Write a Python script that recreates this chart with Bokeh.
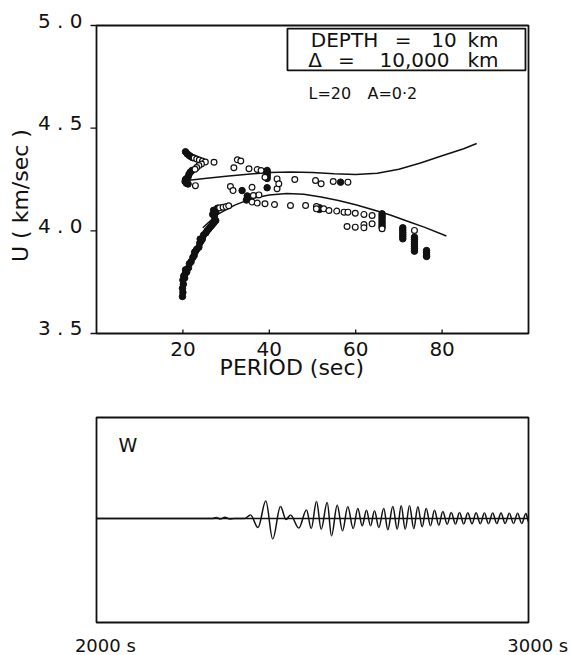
import numpy as np
from bokeh.plotting import figure
from bokeh.models import Range1d, Label, BoxAnnotation
from bokeh.layouts import column
from bokeh.embed import file_html
from bokeh.resources import INLINE

FONT = "DejaVu Sans"

# ---------------- data: group velocity vs period ----------------
x_ticks = [20, 40, 60, 80]
y_ticks = [3.5, 4.0, 4.5, 5.0]
period_lim = [0, 100]
u_lim = [3.5, 5.0]

upper_P = [21.0, 25, 30, 35, 40, 45, 50, 55, 60, 65, 70, 75, 80, 85, 88]
upper_U = [4.245, 4.255, 4.266, 4.276, 4.284, 4.287, 4.284, 4.278, 4.274,
           4.280, 4.300, 4.330, 4.366, 4.400, 4.425]

lower_P = [24.6, 28, 32, 36, 40, 44, 48, 52, 56, 60, 64, 68, 72, 76, 81]
lower_U = [4.015, 4.080, 4.125, 4.158, 4.175, 4.182, 4.178, 4.165, 4.148,
           4.127, 4.103, 4.077, 4.047, 4.017, 3.975]

open_P = [22.6, 23.2, 23.8, 24.5, 25.2, 24.3, 23.7, 23.2, 22.8, 22.9, 27.2,
          31.8, 32.6, 33.4, 35.3, 37.2, 38.1, 39.0,
          41.8, 45.9, 50.7, 52.0, 54.8, 58.2,
          31.0, 31.6, 36.0, 41.8, 42.2,
          36.3, 37.6,
          28.5, 29.3, 30.0, 30.6,
          36.0, 37.2, 39.0, 41.2, 44.9, 48.4, 50.9, 50.9, 52.6, 53.8, 55.6,
          57.3, 58.2, 59.9, 61.9, 63.8,
          66.1,
          58.0, 59.9, 61.9, 61.9, 63.8,
          73.6]
open_U = [4.355, 4.350, 4.345, 4.340, 4.335, 4.325, 4.318, 4.308, 4.300, 4.220, 4.334,
          4.307, 4.346, 4.340, 4.302, 4.299, 4.294, 4.261,
          4.253, 4.250, 4.245, 4.229, 4.240, 4.237,
          4.216, 4.196, 4.212, 4.205, 4.229,
          4.172, 4.175,
          4.112, 4.115, 4.118, 4.122,
          4.140, 4.135, 4.132, 4.128, 4.123, 4.123, 4.118, 4.107, 4.107, 4.099, 4.096,
          4.091, 4.091, 4.086, 4.080, 4.075,
          4.010,
          4.021, 4.018, 4.031, 4.015, 4.034,
          4.002]

filled_P = [19.9, 20.0, 19.9, 20.1, 20.0, 20.2, 20.5, 20.9, 21.3, 21.5, 21.9, 22.3,
            22.6, 22.9, 23.2, 23.7, 23.9, 24.2, 24.5, 24.8, 25.3, 25.6, 26.0, 26.4,
            26.8, 27.2, 27.6, 27.3, 26.9, 27.1, 27.6, 28.0, 20.4, 20.6, 22.7, 24.0,
            20.6, 21.0, 21.4, 21.8, 22.2,
            22.1, 21.7, 21.4, 21.2, 20.9, 20.6, 20.5, 20.8, 21.2,
            39.5, 39.5, 39.5, 39.5, 39.5, 39.5,
            33.7, 34.9, 35.0, 34.7, 51.6, 51.6, 56.5,
            66.1, 66.1, 66.1, 66.1, 66.1, 66.1, 66.1,
            70.9, 70.9, 70.9, 70.9, 70.9, 70.9,
            73.6, 73.6, 73.6, 73.6, 73.6, 73.6, 73.6,
            76.4, 76.4, 76.4, 76.4]
filled_U = [3.680, 3.700, 3.720, 3.740, 3.760, 3.780, 3.790, 3.800, 3.820, 3.840, 3.850, 3.870,
            3.880, 3.900, 3.910, 3.920, 3.940, 3.950, 3.960, 3.980, 3.990, 4.000, 4.010, 4.020,
            4.030, 4.040, 4.050, 4.070, 4.080, 4.100, 4.090, 4.110, 3.770, 3.810, 3.895, 3.960,
            4.385, 4.375, 4.368, 4.362, 4.357,
            4.294, 4.285, 4.275, 4.262, 4.255, 4.250, 4.240, 4.232, 4.228,
            4.294, 4.285, 4.275, 4.265, 4.255, 4.210,
            4.196, 4.170, 4.158, 4.150, 4.113, 4.104, 4.237,
            4.083, 4.072, 4.061, 4.050, 4.039, 4.028, 4.018,
            4.015, 4.004, 3.993, 3.982, 3.972, 3.961,
            3.969, 3.958, 3.947, 3.936, 3.925, 3.913, 3.901,
            3.904, 3.893, 3.882, 3.875]

# ---------------- data: synthetic seismogram (extrema) ----------------
time_lim = [2000, 3000]
amp_lim = [-104, 101]
wave_t = [2000, 2268.5, 2277.8, 2287.0, 2297.5, 2307.9, 2319.4, 2342.6,
          2356.5, 2373.8, 2391.9, 2407.9, 2425.9, 2438.7, 2449.1, 2468.3,
          2486.1, 2497.0, 2509.3, 2520.1, 2534.0, 2544.0, 2557.2, 2569.4,
          2581.7, 2594.2, 2604.9, 2615.0, 2625.0, 2634.3, 2643.5, 2653.5,
          2665.0, 2674.3, 2685.9, 2696.1, 2705.3, 2714.6, 2724.5, 2734.5,
          2743.8, 2753.9, 2763.2, 2773.1, 2782.4, 2792.4, 2801.6, 2811.8,
          2821.1, 2831.0, 2840.3, 2850.0, 2859.5, 2869.2, 2878.7, 2888.4,
          2897.9, 2907.4, 2917.1, 2926.6, 2936.4, 2945.9, 2955.6, 2965.3,
          2974.8, 2984.3, 2994.0, 3000]
wave_a = [0, 0, 1.0, -0.6, 1.2, -0.4, 0, 0,
          3.5, -9.0, 17.5, -20.5, 12.0, -1.0, 3.5, -9.5,
          8.5, -10.0, 17.0, -10.7, 16.0, -17.3, 13.3, -12.3,
          11.7, -10.0, 10.0, -7.3, 8.3, -7.3, 7.7, -9.0,
          10.0, -11.3, 12.0, -10.7, 12.7, -10.7, 12.7, -10.0,
          11.7, -8.3, 10.0, -7.3, 8.3, -6.7, 7.0, -5.7,
          6.0, -5.5, 6.0, -5.5, 5.7, -5.3, 5.7, -5.3,
          5.5, -5.3, 5.5, -5.0, 5.5, -5.0, 5.3, -5.0,
          5.3, -5.0, 5.0, -3.0]

BLACK = "#111111"

def lab(p, x, y, text, size, align="center", angle=0):
    p.add_layout(Label(x=x, y=y, text=text, text_font=FONT, text_font_size=f"{size}px",
                       text_color=BLACK, text_align=align, text_baseline="middle",
                       angle=angle))

def frame_box(p, l, r, b, t):
    p.add_layout(BoxAnnotation(left=l, right=r, bottom=b, top=t,
                               fill_color=None, fill_alpha=0, line_color=BLACK,
                               line_alpha=1.0, line_width=1.8))

# ---------------- top panel (frame drawn inside a full-canvas plot area) ----------------
W = 570
px_per_P = 4.32      # pixels per second of period
px_per_U = 205.33    # pixels per km/s
fx, fy = 96, 25      # frame top-left in pixels
H1 = 383
top = figure(width=W, height=H1,
             x_range=Range1d(period_lim[0] - fx / px_per_P, period_lim[0] + (W - fx) / px_per_P),
             y_range=Range1d(u_lim[1] - (H1 - fy) / px_per_U, u_lim[1] + fy / px_per_U),
             output_backend="svg", toolbar_location=None,
             x_axis_location=None, y_axis_location=None,
             min_border=0, min_border_left=0, min_border_right=0,
             min_border_top=0, min_border_bottom=0)
top.grid.visible = False
top.outline_line_color = None
top.background_fill_color = "white"
top.border_fill_color = "white"

frame_box(top, period_lim[0], period_lim[1], u_lim[0], u_lim[1])
# tick marks
top.segment(x0=[period_lim[0]] * len(y_ticks), x1=[period_lim[0] - 6 / px_per_P] * len(y_ticks),
            y0=y_ticks, y1=y_ticks, line_color=BLACK, line_width=1.3)
top.segment(x0=x_ticks, x1=x_ticks, y0=[u_lim[0]] * len(x_ticks),
            y1=[u_lim[0] + 4 / px_per_U] * len(x_ticks), line_color=BLACK, line_width=1.3)

top.line(upper_P, upper_U, line_color=BLACK, line_width=1.5)
top.line(lower_P, lower_U, line_color=BLACK, line_width=1.5)
top.scatter(filled_P, filled_U, marker="circle", size=6.5, fill_color=BLACK,
            line_color=BLACK, line_width=1)
top.scatter(open_P, open_U, marker="circle", size=5.8, fill_color="white",
            line_color=BLACK, line_width=1.2)

# info box
frame_box(top, 44.2, 99.3, 4.781, 4.985)

for v in y_ticks:
    lab(top, -3.24, v + 5 / px_per_U, " . ".join(f"{v:.1f}".split(".")), 20, align="right")
for v in x_ticks:
    lab(top, v, 3.4269, str(v), 20)
lab(top, 28.5, 3.332, "PERIOD (sec)", 22, align="left")
lab(top, -17.59, 4.172, "U ( km/sec )", 22, angle=np.pi / 2)

lab(top, 57.41, 4.927, "DEPTH", 20)
lab(top, 70.95, 4.927, "=", 20)
lab(top, 80.44, 4.927, "10", 20)
lab(top, 89.47, 4.927, "km", 20)
lab(top, 50.58, 4.832, "Δ", 20)
lab(top, 57.87, 4.832, "=", 20)
lab(top, 73.61, 4.832, "10,000", 20)
lab(top, 89.47, 4.832, "km", 20)
lab(top, 49.07, 4.671, "L=20", 16, align="left")
lab(top, 62.73, 4.671, "A=0·2", 16, align="left")

# ---------------- bottom panel ----------------
H2 = 272
px_per_s = 0.432
base_y = 518 - H1    # baseline position inside the lower canvas (pixels from its top)
bot = figure(width=W, height=H2,
             x_range=Range1d(time_lim[0] - fx / px_per_s, time_lim[0] + (W - fx) / px_per_s),
             y_range=Range1d(-(H2 - base_y), base_y),
             output_backend="svg", toolbar_location=None,
             x_axis_location=None, y_axis_location=None,
             min_border=0, min_border_left=0, min_border_right=0,
             min_border_top=0, min_border_bottom=0)
bot.grid.visible = False
bot.outline_line_color = None
bot.background_fill_color = "white"
bot.border_fill_color = "white"

frame_box(bot, time_lim[0], time_lim[1], amp_lim[0], amp_lim[1])
bot.line(time_lim, [0, 0], line_color=BLACK, line_width=1.3)

t = np.array(wave_t, dtype=float)
a = np.array(wave_a, dtype=float)
dt = t[1:] - t[:-1]
k = 0.36
bot.bezier(x0=t[:-1], y0=a[:-1], x1=t[1:], y1=a[1:],
           cx0=t[:-1] + k * dt, cy0=a[:-1], cx1=t[1:] - k * dt, cy1=a[1:],
           line_color=BLACK, line_width=1.5)

lab(bot, 2050.9, 73.5, "W", 19, align="left")
lab(bot, 1950, -127, f"{time_lim[0]} s", 18, align="left")
lab(bot, 2951, -127, f"{time_lim[1]} s", 18, align="left")

layout = column(top, bot)
open("out.html", "w").write(file_html(layout, INLINE))
